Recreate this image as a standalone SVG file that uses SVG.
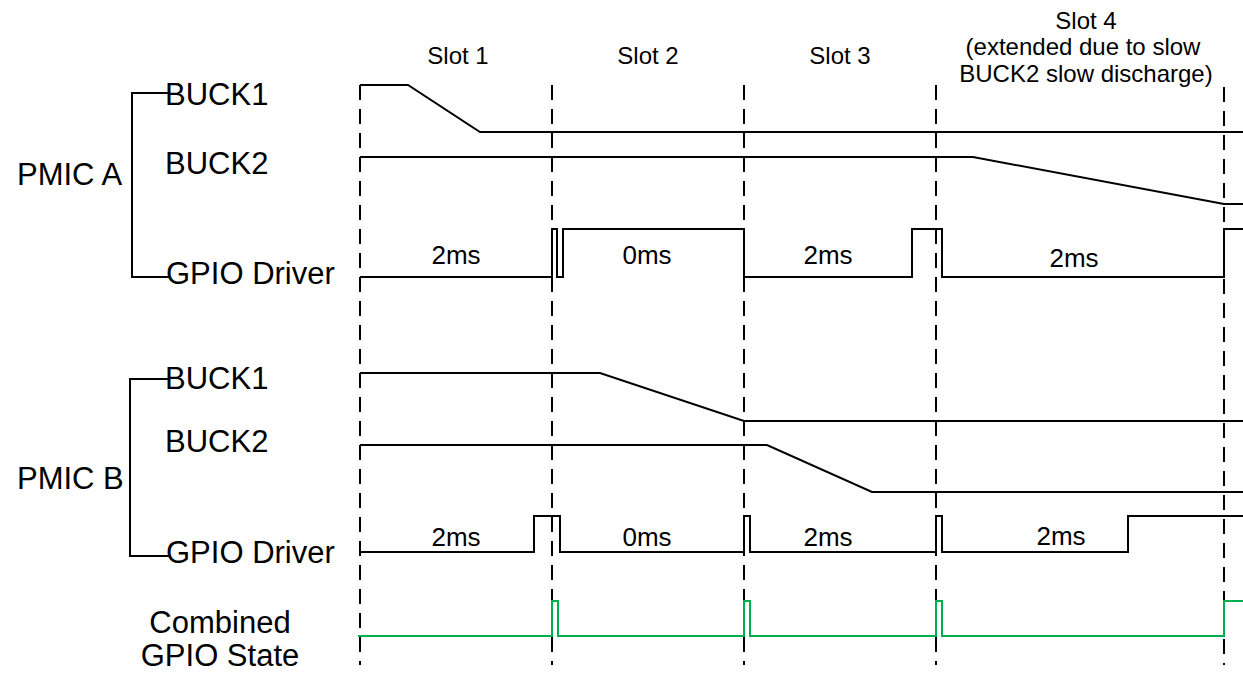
<svg xmlns="http://www.w3.org/2000/svg" width="1243" height="674" viewBox="0 0 1243 674">
<style>
.bg{fill:#ffffff}
.w{fill:none;stroke:#000;stroke-width:2;stroke-linejoin:miter}
.g{fill:none;stroke:#00b050;stroke-width:2}
.d{fill:none;stroke:#000;stroke-width:2;stroke-dasharray:15 9}
.lbl{font-family:"Liberation Sans",Arial,sans-serif;font-size:31px;fill:#000}
.slot{font-family:"Liberation Sans",Arial,sans-serif;font-size:24px;fill:#000;text-anchor:middle}
.ms{font-family:"Liberation Sans",Arial,sans-serif;font-size:26px;fill:#000;text-anchor:middle}
</style>
<rect class="bg" x="0" y="0" width="1243" height="674"/>
<g id="slot-dividers">
<line class="d" x1="360" y1="85" x2="360" y2="665"/>
<line class="d" x1="552" y1="85" x2="552" y2="665"/>
<line class="d" x1="744" y1="85" x2="744" y2="665"/>
<line class="d" x1="936" y1="85" x2="936" y2="665"/>
<line class="d" x1="1224" y1="87" x2="1224" y2="665"/>
</g>
<g id="slot-labels">
<text class="slot" x="458" y="64">Slot 1</text>
<text class="slot" x="648" y="64">Slot 2</text>
<text class="slot" x="840" y="64">Slot 3</text>
<text class="slot" x="1086" y="29">Slot 4</text>
<text class="slot" x="1083" y="55">(extended due to slow</text>
<text class="slot" x="1086" y="82">BUCK2 slow discharge)</text>
</g>
<g id="pmic-a">
<path class="w" d="M168,93 H132 V277 H170"/>
<text class="lbl" x="17" y="185">PMIC A</text>
<text class="lbl" x="165" y="105">BUCK1</text>
<text class="lbl" x="165" y="174">BUCK2</text>
<text class="lbl" x="166" y="284">GPIO Driver</text>
</g>
<g id="pmic-a-buck1"><path class="w" d="M360,85 H408 L480,132 H1243"/></g>
<g id="pmic-a-buck2"><path class="w" d="M360,157 H973 L1224,204 H1243"/></g>
<g id="pmic-a-gpio">
<path class="w" d="M360,277 H552 V229 H557 V277 H563 V229 H744 V277 H912 V229 H942 V277 H1224 V229 H1243"/>
<text class="ms" x="456" y="264">2ms</text>
<text class="ms" x="647" y="264">0ms</text>
<text class="ms" x="828" y="264">2ms</text>
<text class="ms" x="1074" y="267">2ms</text>
</g>
<g id="pmic-b">
<path class="w" d="M168,379 H130 V556 H170"/>
<text class="lbl" x="17" y="489">PMIC B</text>
<text class="lbl" x="165" y="389">BUCK1</text>
<text class="lbl" x="165" y="452">BUCK2</text>
<text class="lbl" x="166" y="563">GPIO Driver</text>
</g>
<g id="pmic-b-buck1"><path class="w" d="M360,373 H600 L744,421 H1243"/></g>
<g id="pmic-b-buck2"><path class="w" d="M360,445 H767 L872,492 H1243"/></g>
<g id="pmic-b-gpio">
<path class="w" d="M360,552 H534 V516 H560 V552 H744 V516 H750 V552 H936 V516 H942 V552 H1128 V516 H1243"/>
<text class="ms" x="456" y="546">2ms</text>
<text class="ms" x="647" y="546">0ms</text>
<text class="ms" x="828" y="546">2ms</text>
<text class="ms" x="1061" y="545">2ms</text>
</g>
<g id="combined">
<text class="lbl" x="220" y="633" text-anchor="middle">Combined</text>
<text class="lbl" x="220" y="666" text-anchor="middle">GPIO State</text>
<path class="g" d="M358,636 H552 V601 H558 V636 H744 V601 H750 V636 H936 V601 H942 V636 H1224 V601 H1243"/>
</g>
</svg>
